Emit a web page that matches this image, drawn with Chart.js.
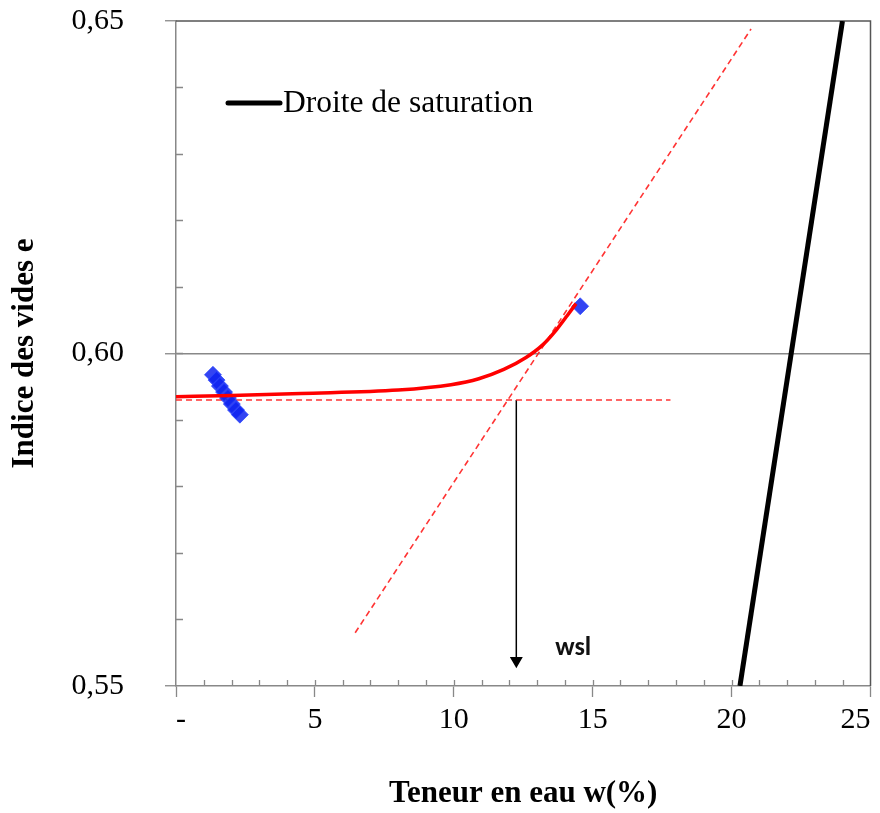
<!DOCTYPE html>
<html>
<head>
<meta charset="utf-8">
<script src="https://cdn.jsdelivr.net/npm/chart.js@4.4.1/dist/chart.umd.min.js"></script>
<style>
  html, body { margin: 0; padding: 0; background: #fff; }
  #box { width: 880px; height: 813px; }
</style>
</head>
<body>
<div id="box"><canvas id="courbe"></canvas></div>
<script>
/////////////////////////// data
const mesuresW = [1.33, 1.46, 1.58, 1.73, 1.87, 2.01, 2.16, 2.30, 14.55];
const mesuresE = [0.5968, 0.5960, 0.5951, 0.5942, 0.5933, 0.5924, 0.5915, 0.5908, 0.6071];

const courbeW = [0, 2, 4.5, 8, 9.9, 10.9, 11.8, 12.6, 13.2, 13.7, 14.1, 14.4];
const courbeE = [0.5935, 0.5937, 0.5940, 0.5945, 0.5953, 0.5962, 0.5976, 0.5994, 0.6013, 0.6036, 0.6058, 0.6075];

const saturationW = [20.30, 23.99];
const saturationE = [0.55, 0.65];

const tangenteW = [6.45, 20.7];
const tangenteE = [0.558, 0.6488];

const paliereW = [0, 17.8];
const paliereE = [0.593, 0.593];

const flecheW = [12.25, 12.25];
const flecheE = [0.593, 0.5538];

const wslPos = [14.3, 0.5557];

const xTicks = [0, 5, 10, 15, 20, 25];
const yTicks = [0.55, 0.60, 0.65];
const xMinorStep = 1;
const yMinorStep = 0.01;
///////////////////////////////////////////////////

function pts(xs, ys) {
    return xs.map((x, i) => ({ x: x, y: ys[i] }));
}

const serif = "'Liberation Serif', 'Times New Roman', serif";
const grisAxe = '#888888';

/////////////////// small ticks, frame, legend, wsl label
const decor = {
    id: 'decor',
    beforeDatasetsDraw(chart) {
        const c = chart.ctx, a = chart.chartArea;
        const xs = chart.scales.x, ys = chart.scales.y;
        c.save();
        c.strokeStyle = grisAxe;
        c.lineWidth = 1.3;
        c.beginPath();
        for (let v = xs.min + xMinorStep; v < xs.max; v += xMinorStep) {
            const px = Math.round(xs.getPixelForValue(v)) + 0.5;
            c.moveTo(px, a.bottom);
            c.lineTo(px, a.bottom - 6);
        }
        for (let v = ys.min + yMinorStep; v < ys.max - 1e-9; v += yMinorStep) {
            const py = Math.round(ys.getPixelForValue(v)) + 0.5;
            c.moveTo(a.left, py);
            c.lineTo(a.left + 7, py);
        }
        c.stroke();
        // frame top + right
        c.strokeStyle = '#555555';
        c.lineWidth = 1.5;
        c.beginPath();
        c.moveTo(a.left, a.top);
        c.lineTo(a.right, a.top);
        c.lineTo(a.right, a.bottom);
        c.stroke();
        c.restore();
    },
    afterDraw(chart) {
        const c = chart.ctx, a = chart.chartArea;
        const xs = chart.scales.x, ys = chart.scales.y;
        c.save();
        // legend
        c.strokeStyle = '#000';
        c.lineWidth = 5;
        c.lineCap = 'round';
        c.beginPath();
        c.moveTo(a.left + 52, a.top + 82);
        c.lineTo(a.left + 104, a.top + 82);
        c.stroke();
        c.fillStyle = '#000';
        c.font = '31.5px ' + serif;
        c.textBaseline = 'middle';
        c.textAlign = 'left';
        c.fillText('Droite de saturation', a.left + 107, a.top + 83);
        // wsl
        c.font = 'bold 26px Carlito, Calibri, "Liberation Sans", sans-serif';
        c.fillStyle = '#111';
        c.textAlign = 'center';
        c.fillText('wsl', xs.getPixelForValue(wslPos[0]), ys.getPixelForValue(wslPos[1]));
        c.restore();
    }
};

const ctx = document.getElementById('courbe').getContext('2d');
const graphe = new Chart(ctx, {
    type: 'scatter',
    plugins: [decor],
    data: {
        datasets: [
            {
                label: 'courbe',
                data: pts(courbeW, courbeE),
                showLine: true,
                borderColor: '#ff0000',
                borderWidth: 3.5,
                pointRadius: 0,
                cubicInterpolationMode: 'monotone',
                order: 0
            },
            {
                label: 'mesures',
                data: pts(mesuresW, mesuresE),
                showLine: false,
                pointStyle: 'rectRot',
                pointRadius: 8.5,
                backgroundColor: 'rgba(15, 35, 240, 0.85)',
                borderColor: 'rgba(40, 70, 255, 0.7)',
                borderWidth: 1,
                order: 1
            },
            {
                label: 'Droite de saturation',
                data: pts(saturationW, saturationE),
                showLine: true,
                borderColor: '#000',
                borderWidth: 5,
                pointRadius: 0,
                order: 2
            },
            {
                label: 'tangente',
                data: pts(tangenteW, tangenteE),
                showLine: true,
                borderColor: 'rgba(255, 30, 30, 0.9)',
                borderWidth: 1.6,
                borderDash: [6, 4],
                pointRadius: 0,
                order: 3
            },
            {
                label: 'palier',
                data: pts(paliereW, paliereE),
                showLine: true,
                borderColor: 'rgba(255, 30, 30, 0.9)',
                borderWidth: 1.6,
                borderDash: [6, 4],
                pointRadius: 0,
                order: 4
            },
            {
                label: 'fleche',
                data: pts(flecheW, flecheE),
                showLine: true,
                borderColor: '#000',
                borderWidth: 1.5,
                pointStyle: 'triangle',
                pointRadius: [0, 6],
                rotation: 180,
                backgroundColor: '#000',
                pointBorderColor: '#000',
                order: 5
            }
        ]
    },
    options: {
        responsive: true,
        maintainAspectRatio: false,
        animation: false,
        layout: { padding: { top: 21, right: 9, left: 0, bottom: 0 } },
        plugins: {
            legend: { display: false },
            tooltip: { enabled: false }
        },
        scales: {
            x: {
                type: 'linear',
                min: 0,
                max: 25,
                afterFit: (s) => { s.height = 127; s.paddingLeft = 0; s.paddingRight = 0; },
                afterBuildTicks: (s) => { s.ticks = xTicks.map(v => ({ value: v })); },
                ticks: {
                    color: '#000',
                    font: { family: serif, size: 30 },
                    padding: 5,
                    align: 'inner',
                    maxRotation: 0,
                    callback: (v) => v === 0 ? '-' : String(v)
                },
                grid: {
                    drawOnChartArea: false,
                    tickLength: 11,
                    tickColor: grisAxe,
                    tickWidth: 1.3
                },
                border: { color: grisAxe, width: 1.5 },
                title: {
                    display: true,
                    text: 'Teneur en eau w(%)',
                    color: '#000',
                    font: { family: serif, size: 31, weight: 'bold', lineHeight: 1.2 },
                    padding: { top: 0, bottom: 0 }
                }
            },
            y: {
                type: 'linear',
                min: 0.55,
                max: 0.65,
                afterFit: (s) => { s.width = 176; s.paddingTop = 0; s.paddingBottom = 0; },
                afterBuildTicks: (s) => { s.ticks = yTicks.map(v => ({ value: v })); },
                ticks: {
                    color: '#000',
                    font: { family: serif, size: 30 },
                    padding: 41,
                    callback: (v) => v.toFixed(2).replace('.', ',')
                },
                grid: {
                    color: (c) => (c.tick && Math.abs(c.tick.value - 0.60) < 1e-6) ? grisAxe : 'rgba(0,0,0,0)',
                    lineWidth: 1.5,
                    tickLength: 11,
                    tickColor: grisAxe,
                    tickWidth: 1.3
                },
                border: { color: grisAxe, width: 1.5 },
                title: {
                    display: true,
                    text: 'Indice des vides e',
                    color: '#000',
                    font: { family: serif, size: 31, weight: 'bold', lineHeight: 1.2 },
                    padding: { top: 6, bottom: 0 }
                }
            }
        }
    }
});
</script>
</body>
</html>
